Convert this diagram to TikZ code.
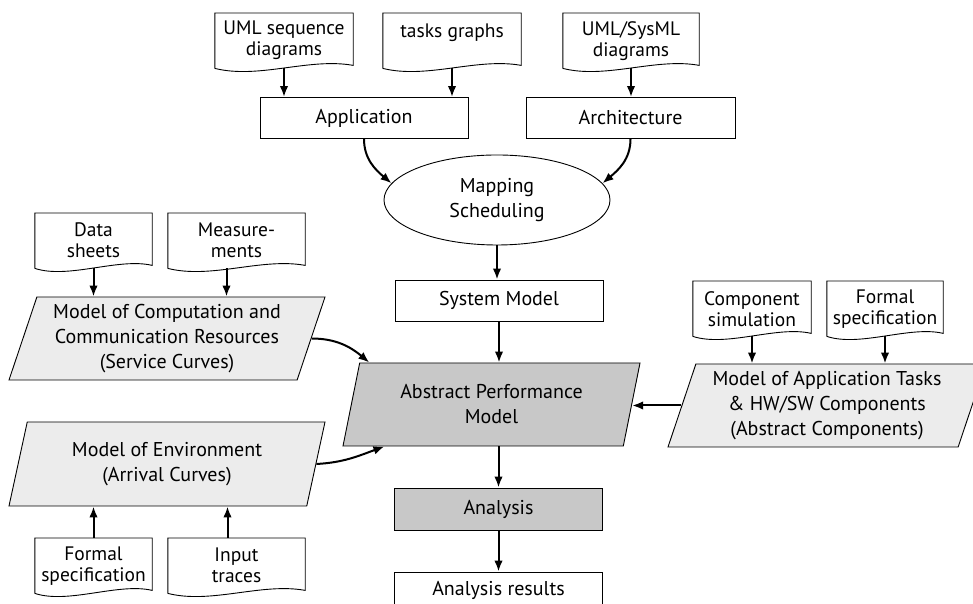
\documentclass[tikz,border=0pt]{standalone}
\usepackage{fontspec}
\setmainfont{PT Sans}
\usetikzlibrary{shapes.geometric,arrows.meta,calc}

\definecolor{lightfill}{RGB}{236,236,236}
\definecolor{darkfill}{RGB}{200,200,200}
\newcommand{\docfont}{\fontsize{19.5}{21}\selectfont}

% outline of a document node (flat top, wavy bottom)
\newcommand{\docshape}[1]{%
  \draw[line width=0.9pt] (#1.south west) -- (#1.north west) -- (#1.north east)
    -- ($(#1.south east)+(0,3)$)
    .. controls ($(#1.south)+(25,11)$) and ($(#1.south)+(-25,-11)$) .. (#1.south west);}

\tikzset{
  box/.style={draw, line width=0.9pt, minimum width=208pt, minimum height=41pt, inner sep=2pt},
  docbox/.style={anchor=north, minimum height=55pt, align=center, font=\docfont, inner sep=1pt},
  para/.style={trapezium, trapezium left angle=69, trapezium right angle=111,
    trapezium stretches body, draw, line width=0.9pt, fill=lightfill, align=center,
    minimum height=83pt, inner sep=2pt},
  arr/.style={-{Latex[length=11pt,width=8.5pt]}, line width=2pt},
}

\begin{document}
\begin{tikzpicture}[x=1pt, y=1pt, font=\fontsize{20}{25}\selectfont]
\useasboundingbox (0,0) rectangle (973,604);

% Input documents
\node[docbox, minimum width=138pt] (seq) at (284,591) {UML sequence\\diagrams};
\node[docbox, minimum width=138pt] (tasks) at (452,591) {tasks graphs\\\mbox{}};
\node[docbox, minimum width=136pt] (sysml) at (631,591) {UML/SysML\\diagrams};
\node[docbox, minimum width=117pt] (data) at (93.5,391) {Data\\sheets};
\node[docbox, minimum width=137pt] (meas) at (236.5,391) {Measure-\\ments};
\node[docbox, minimum width=117pt] (fspecl) at (93.5,66) {Formal\\specification};
\node[docbox, minimum width=137pt] (traces) at (236.5,66) {Input\\traces};
\node[docbox, minimum width=118pt] (compsim) at (752,323) {Component\\simulation};
\node[docbox, minimum width=116pt] (fspecr) at (885,323) {Formal\\specification};
\foreach \d in {seq,tasks,sysml,data,meas,fspecl,traces,compsim,fspecr}
  \docshape{\d};

% Main flow
\node[box] (app) at (364,486) {Application};
\node[box, minimum width=209pt] (arch) at (630.5,486) {Architecture};
\node[ellipse, draw, line width=0.9pt, minimum width=226pt, minimum height=90pt, inner sep=0pt, align=center] (map) at (497,404) {Mapping\\Scheduling};
\node[box] (sys) at (499,303.5) {System Model};
\node[para, fill=darkfill, minimum width=297pt] (apm) at (491.5,199.5) {Abstract Performance\\Model};
\node[box, fill=darkfill, minimum height=42pt] (ana) at (498.5,95) {Analysis};
\node[box, minimum height=36pt] (res) at (498.5,14) {Analysis results};

% Side models
\node[para, minimum width=316pt] (moc) at (167,265.5) {Model of Computation and\\Communication Resources\\(Service Curves)};
\node[para, minimum width=316pt, minimum height=84pt] (moe) at (167,140) {Model of Environment\\(Arrival Curves)};
\node[para, minimum width=318pt] (mat) at (827,198.5) {Model of Application Tasks\\\& HW/SW Components\\(Abstract Components)};

% Arrows
\draw[arr] (seq.south) -- (seq.south |- app.north);
\draw[arr] (tasks.south) -- (tasks.south |- app.north);
\draw[arr] (sysml.south) -- (sysml.south |- arch.north);
\draw[arr] (app.south) to[out=-90, in=140] (map.171);
\draw[arr] (arch.south) to[out=-90, in=40] (map.9);
\draw[arr] (map.south) -- (map.south |- sys.north);
\draw[arr] (sys.south) -- (sys.south |- apm.top side);
\draw[arr] (ana.north |- apm.bottom side) -- (ana.north);
\draw[arr] (ana.south) -- (res.north);

\draw[arr] (data.south) -- (data.south |- moc.top side);
\draw[arr] ($(meas.south)+(-10,0)$) -- ($(meas.south |- moc.top side)+(-10,0)$);
\draw[arr] (moc.right side) to[out=0, in=140] ($(apm.top left corner)+(10,0)$);
\draw[arr] (moe.right side) to[out=3, in=200] ($(apm.bottom left corner)+(42,0)$);
\draw[arr] (fspecl.north) -- (fspecl.north |- moe.bottom side);
\draw[arr] ($(traces.north)+(-9,0)$) -- ($(traces.north |- moe.bottom side)+(-9,0)$);

\draw[arr] (compsim.south) -- (compsim.south |- mat.top side);
\draw[arr] (fspecr.south) -- (fspecr.south |- mat.top side);
\draw[arr] (mat.left side) -- (mat.left side -| apm.right side);
\end{tikzpicture}
\end{document}
